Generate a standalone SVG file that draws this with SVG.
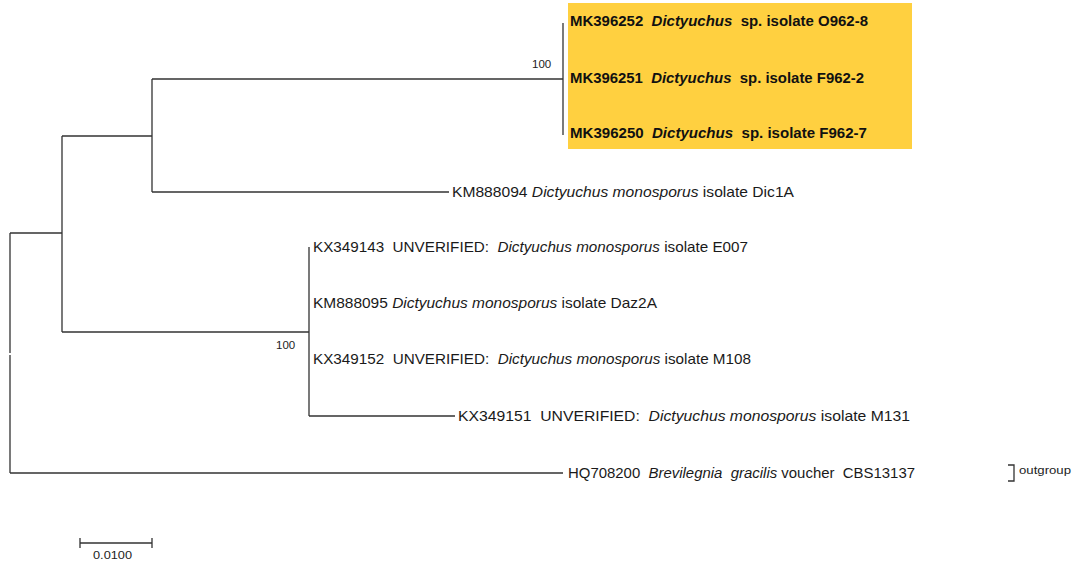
<svg xmlns="http://www.w3.org/2000/svg" width="1073" height="562" viewBox="0 0 1073 562">
<style>
.br{stroke:#333;stroke-width:1.3;fill:none}
.lb{font-family:"Liberation Sans",Arial,sans-serif;font-size:15px;fill:#1a1a1a;white-space:pre}
.b{font-weight:bold;fill:#111}
.i{font-style:italic}
.bs{font-family:"Liberation Sans",Arial,sans-serif;font-size:11.5px;fill:#222}
.sm{font-family:"Liberation Sans",Arial,sans-serif;font-size:11.5px;fill:#222}
</style>
<rect x="0" y="0" width="1073" height="562" fill="#fff"/>
<g id="highlight"><rect x="568" y="3" width="344" height="146" fill="#FFD040"/></g>
<g id="connectors">
<path class="br" d="M10,233V353M10,355V473M10,233H62M10,473H563"/>
<path class="br" d="M62,136V332M62,136H152M62,332H309"/>
<path class="br" d="M152,79V192M152,79H563M152,192H449"/>
<path class="br" d="M563,23V135"/>
<path class="br" d="M309,247V416M309,416H455"/>
</g>
<g id="leaf-MK396252"><text class="lb b" x="570" y="26" textLength="298" lengthAdjust="spacingAndGlyphs">MK396252  <tspan class="i">Dictyuchus</tspan>  sp. isolate O962-8</text></g>
<g id="leaf-MK396251"><text class="lb b" x="570" y="83" textLength="294" lengthAdjust="spacingAndGlyphs">MK396251  <tspan class="i">Dictyuchus</tspan>  sp. isolate F962-2</text></g>
<g id="leaf-MK396250"><text class="lb b" x="570" y="138" textLength="297" lengthAdjust="spacingAndGlyphs">MK396250  <tspan class="i">Dictyuchus</tspan>  sp. isolate F962-7</text></g>
<g id="leaf-KM888094"><text class="lb" x="452" y="197" textLength="342" lengthAdjust="spacingAndGlyphs">KM888094 <tspan class="i">Dictyuchus monosporus</tspan> isolate Dic1A</text></g>
<g id="leaf-KX349143"><text class="lb" x="313" y="252" textLength="435" lengthAdjust="spacingAndGlyphs">KX349143  UNVERIFIED:  <tspan class="i">Dictyuchus monosporus</tspan> isolate E007</text></g>
<g id="leaf-KM888095"><text class="lb" x="313" y="308" textLength="344" lengthAdjust="spacingAndGlyphs">KM888095 <tspan class="i">Dictyuchus monosporus</tspan> isolate Daz2A</text></g>
<g id="leaf-KX349152"><text class="lb" x="313" y="364" textLength="438" lengthAdjust="spacingAndGlyphs">KX349152  UNVERIFIED:  <tspan class="i">Dictyuchus monosporus</tspan> isolate M108</text></g>
<g id="leaf-KX349151"><text class="lb" x="458" y="421" textLength="452" lengthAdjust="spacingAndGlyphs">KX349151  UNVERIFIED:  <tspan class="i">Dictyuchus monosporus</tspan> isolate M131</text></g>
<g id="leaf-HQ708200"><text class="lb" x="568" y="478" textLength="347" lengthAdjust="spacingAndGlyphs">HQ708200  <tspan class="i">Brevilegnia  gracilis</tspan> voucher  CBS13137</text></g>
<g id="bootstrap-1"><text class="bs" x="532" y="68">100</text></g>
<g id="bootstrap-2"><text class="bs" x="276" y="349">100</text></g>
<g id="outgroup">
<path class="br" d="M1008,465H1014V481H1008"/>
<text class="sm" x="1019" y="474" textLength="52" lengthAdjust="spacingAndGlyphs">outgroup</text>
</g>
<g id="scale">
<path class="br" d="M80,543H152M80,538V548M152,538V548"/>
<text class="bs" x="93" y="559" textLength="39" lengthAdjust="spacingAndGlyphs">0.0100</text>
</g>
</svg>
